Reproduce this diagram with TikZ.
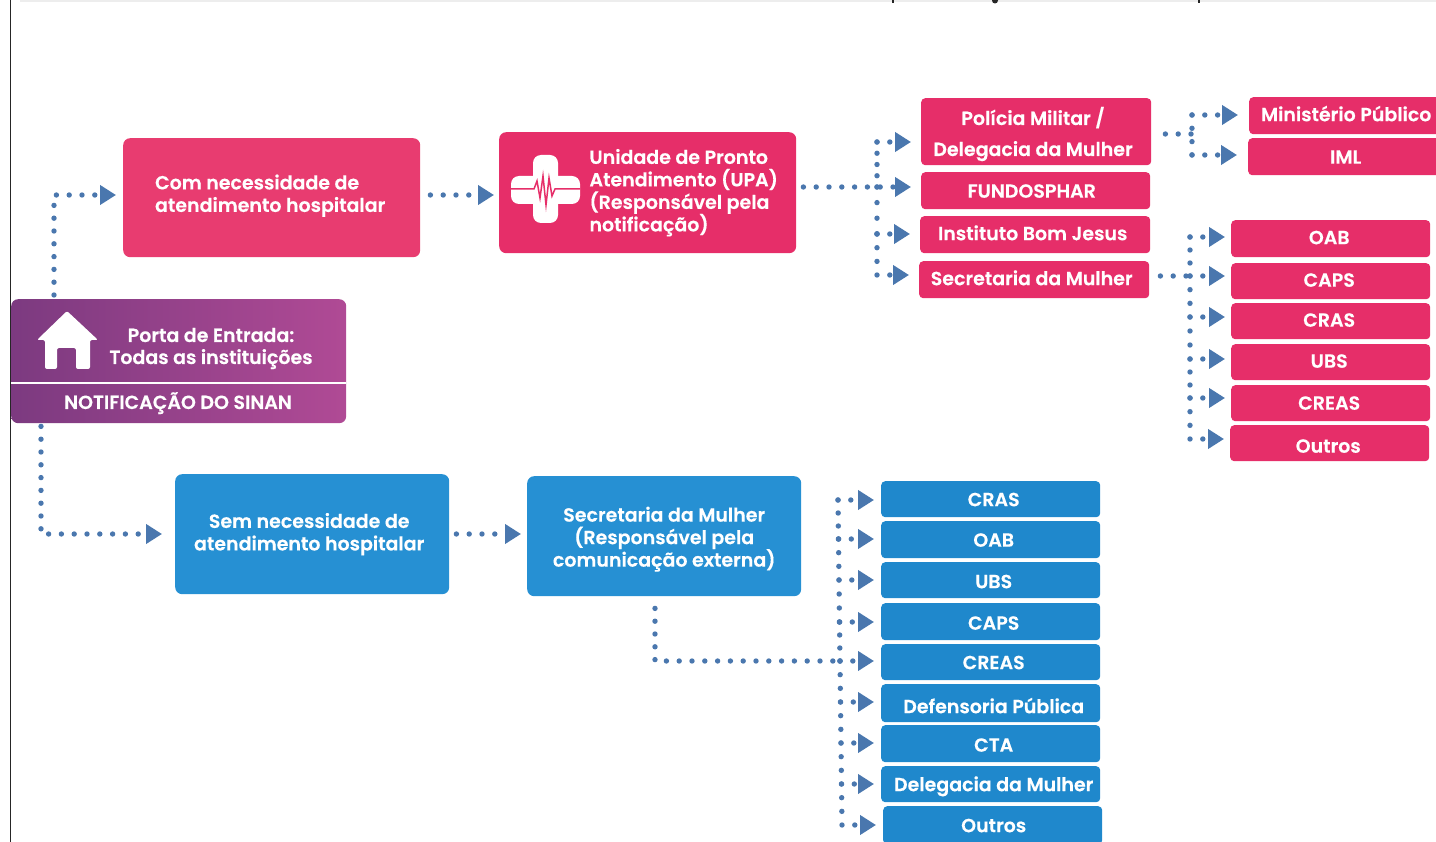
\documentclass[tikz,border=0pt]{standalone}
\usepackage{fontspec}
\setmainfont{Poppins}[BoldFont=Poppins SemiBold,BoldFeatures={FakeBold=0.35}]
\usetikzlibrary{arrows.meta,calc}
\definecolor{pinkA}{HTML}{E62E69}
\definecolor{pinkB}{HTML}{E83C70}
\definecolor{blueA}{HTML}{2690D3}
\definecolor{blueB}{HTML}{1F88CC}
\definecolor{dotc}{HTML}{4A77AE}
\definecolor{portaL}{HTML}{7C3A80}
\definecolor{portaR}{HTML}{B04A95}
\newcommand{\lstack}[1]{\vbox{\baselineskip=22.5pt\lineskiplimit=-20pt\halign{##\hfil\cr#1\crcr}}}
\newcommand{\cstack}[1]{\vbox{\baselineskip=22.5pt\lineskiplimit=-20pt\halign{\hfil##\hfil\cr#1\crcr}}}
\tikzset{
 box/.style={anchor=north west,rounded corners=4pt,text=white,align=center,font=\fontsize{19}{22.5}\selectfont\bfseries,inner sep=0pt},
 bigbox/.style={box,rounded corners=7pt},
 pinkbox/.style={box,fill=pinkA,text height=14pt,text depth=3pt},
 bluebox/.style={box,fill=blueB,text height=16pt,text depth=2pt},
 label/.style={text=white,font=\fontsize{19}{22.5}\selectfont\bfseries,inner sep=0pt,text height=16pt,text depth=2pt},
 link/.style={draw=dotc,line width=5.4pt,line cap=round,dash pattern=on 0pt off 12.8pt,-{Triangle[length=16pt,width=19pt]},shorten >=#1},
 link/.default=7pt,
 trunk/.style={draw=dotc,line width=5.4pt,line cap=round,dash pattern=on 0pt off 12.8pt},
}
\newcommand{\bx}[6]{\node[#1,minimum width=#4pt-#2pt,minimum height=#5pt-#3pt] (#6) at (#2,#3)}
\newcommand{\spine}[1]{\foreach \xa/\ya/\xb/\yb/\pitch in {#1} \draw[trunk,dash pattern=on 0pt off \pitch pt] (\xa,\ya) -- (\xb,\yb);}
\begin{document}
\begin{tikzpicture}[x=1pt,y=-1pt]
\useasboundingbox (0,0) rectangle (1436,842);
\fill[black!7] (20,0) rectangle (1436,2);
\fill[black!85] (892,0) rectangle (894,3.5);
\fill[black!85] (995,0.5) circle (3pt);
\fill[black!85] (1198,0) rectangle (1200,3.5);
\draw[line width=0.9pt,black!85] (10,0) -- (10,842);
% main boxes
\bx{bigbox,fill=pinkB}{123}{138}{420}{257}{hosp} {\kern-3pt\vbox{\lstack{Com necessidade de\cr atendimento hospitalar}\vskip4pt}};
\bx{bigbox,fill=pinkA}{499}{132}{796}{253}{upa} {\kern72pt\lstack{Unidade de Pronto\cr Atendimento (UPA)\cr (Responsável pela\cr notificação)}};
\bx{bigbox,fill=blueA}{175}{474}{449}{594}{sem} {\kern-6pt\cstack{Sem necessidade de\cr atendimento hospitalar}};
\bx{bigbox,fill=blueA}{527}{476}{801}{596}{sec} {\vbox{\vskip6pt\cstack{Secretaria da Mulher\cr (Responsável pela\cr comunicação externa)}}};
% cross icon
\fill[white,rounded corners=8pt] (533,155) rectangle (558,223);
\fill[white,rounded corners=8pt] (511,176) rectangle (580,204);
\draw[pinkA,line width=1.5pt] (511,189) -- (534,189) -- (537,181) -- (540,198) -- (543,176) -- (546,205) -- (549,178) -- (552,196) -- (555,189) -- (580,189);
% porta
\node[anchor=north west,minimum width=335pt,minimum height=124pt,inner sep=0pt,rounded corners=7pt,left color=portaL,right color=portaR] (porta) at (11,299) {};
\draw[white,line width=2pt] (porta.west |- 0,383) -- (porta.east |- 0,383);
\node[label] (portaA) at (211,335) {Porta de Entrada:};
\node[label] (portaB) at (211,357) {Todas as instituições};
\node[label] (portaC) at (178,402) {NOTIFICAÇÃO DO SINAN};
\fill[white,rounded corners=2pt] (67,311) -- (98,340) -- (90,340) -- (90,369) -- (76,369) -- (76,348) -- (57,348) -- (57,369) -- (45,369) -- (45,340) -- (37,340) -- cycle;
% upper right
\bx{pinkbox}{921}{98}{1151}{165}{pm} {};
\node[label] (pmA) at (1033,118) {Polícia Militar /};
\node[label] (pmB) at (1033,149) {Delegacia da Mulher};
\bx{pinkbox}{921}{172}{1150}{209}{fun} {\kern-8pt\raisebox{-1.5pt}{FUNDOSPHAR}};
\bx{pinkbox}{920}{216}{1150}{253}{ibj} {\kern-5pt Instituto Bom Jesus};
\bx{pinkbox}{919}{261}{1149}{298}{sm} {\kern-5pt Secretaria da Mulher};
\bx{pinkbox}{1249}{97}{1447}{134}{mp} {\kern-4pt Ministério Público};
\bx{pinkbox}{1248}{138}{1447}{175}{iml} {\kern-4pt\raisebox{-1.5pt}{IML}};
\bx{pinkbox}{1231}{220}{1430}{257}{oab} {\kern-3pt OAB};
\bx{pinkbox}{1231}{263}{1430}{299}{caps} {\kern-3pt CAPS};
\bx{pinkbox}{1231}{303}{1430}{339}{cras} {\kern-3pt CRAS};
\bx{pinkbox}{1231}{344}{1430}{380}{ubs} {\kern-3pt UBS};
\bx{pinkbox}{1231}{385}{1430}{421}{creas} {\kern-3pt\raisebox{-1pt}{CREAS}};
\bx{pinkbox}{1230}{425}{1429}{461}{out} {\kern-3pt\raisebox{-4pt}{Outros}};
% lower right
\bx{bluebox}{881}{481}{1100}{517}{bcras} {\kern6pt CRAS};
\bx{bluebox}{881}{521}{1100}{558}{boab} {\kern6pt OAB};
\bx{bluebox}{881}{562}{1100}{598}{bubs} {\kern6pt\raisebox{-1pt}{UBS}};
\bx{bluebox}{881}{603}{1100}{640}{bcaps} {\kern6pt\raisebox{-1pt}{CAPS}};
\bx{bluebox}{881}{644}{1100}{680}{bcreas} {\kern6pt CREAS};
\bx{bluebox}{881}{684}{1100}{722}{bdef} {\kern6pt\raisebox{-3pt}{Defensoria Pública}};
\bx{bluebox}{881}{725}{1100}{762}{bcta} {\kern6pt\raisebox{-1pt}{CTA}};
\bx{bluebox}{881}{766}{1100}{802}{bdel} {\kern6pt Delegacia da Mulher};
\bx{bluebox}{883}{806}{1102}{844}{bout} {\kern2pt Outros};
% connectors
\coordinate (tA) at (54,195);
\coordinate (tB) at (41,534);
\draw[link] (porta.north -| tA) ++(0,-4) -- (tA) -- (hosp.west |- tA);
\draw[link=13pt] (porta.south -| tB) ++(0,3) -- (tB) -- (sem.west |- tB) ;
\draw[link=5pt] (hosp.east |- 0,195) ++(10,0) -- (upa.west |- 0,195);
\draw[link=6pt] (sem.east |- 0,534) ++(7,0) -- (sec.west |- 0,534);
% UPA fan
\draw[link=10pt] (upa.east |- 0,187) ++(7,0) -- (fun.west |- 0,187);
\spine{877/142/877/187/11.25,877/187/877/234/15.6,877/234/877/275/13.7}
\foreach \n/\y in {pm/142,ibj/234,sm/275} \draw[link=10pt] (877,\y) -- (\n.west |- 0,\y);
% PM fan
\coordinate (tC) at (1192,134);
\draw[trunk] (pm.east |- tC) ++(14,0) -- (tC);
\spine{1192/115/1192/155/13.3}
\foreach \n/\y in {mp/115,iml/155} \draw[link=11pt] (1192,\y) -- (\n.west |- 0,\y);
% Secretaria fan
\coordinate (tD) at (1190,276);
\draw[trunk] (sm.east |- tD) ++(11,0) -- (tD);
\spine{1190/237/1190/276/13,1190/276/1190/317/13.67,1190/317/1190/359/14,1190/359/1190/398/13,1190/398/1190/439/13.67}
\foreach \n/\y in {oab/237,caps/276,cras/317,ubs/359,creas/398,out/439} \draw[link=6pt] (1190,\y) -- (\n.west |- 0,\y);
% Blue fan
\coordinate (tE) at (655,661);
\draw[trunk] (sec.south -| tE) ++(0,12) -- (tE) -- (840,661);
\spine{838/500/838.5/539/13,838.5/539/839/580/13.67,839/580/839.5/622/14,839.5/622/840/661/13,840/661/840.5/702/13.67,840.5/702/841/743/13.67,841/743/841.5/784/13.67,841.5/784/842/825/13.67}
\foreach \n/\x/\y in {bcras/838/500,boab/838.5/539,bubs/839/580,bcaps/839.5/622,bcreas/840/661,bdef/840.5/702,bcta/841/743,bdel/841.5/784,bout/842/825} \draw[link=7pt] (\x,\y) -- (\n.west |- 0,\y);
\end{tikzpicture}
\end{document}
